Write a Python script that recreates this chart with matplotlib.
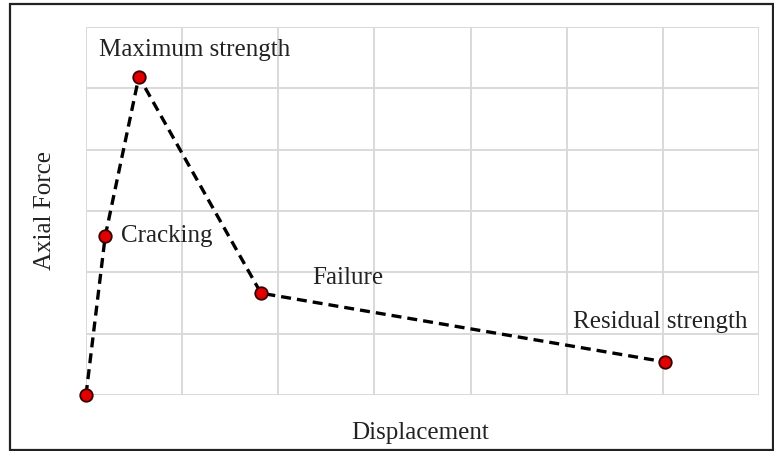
import matplotlib.pyplot as plt
from matplotlib.patches import Rectangle

# key points of the axial force - displacement curve (grid units)
stages = ["Start", "Cracking", "Maximum strength", "Failure", "Residual strength"]
disp = [0.0, 0.2, 0.55, 1.82, 6.02]
force = [0.0, 2.59, 5.19, 1.66, 0.54]

plt.rcParams['font.family'] = ['Liberation Serif', 'DejaVu Serif']

fig = plt.figure(figsize=(7.74, 4.51), dpi=100)
ax = fig.add_axes([86 / 774, 1 - 395 / 451, (759 - 86) / 774, (395 - 27) / 451])

ax.plot(disp, force, ls=(0, (3, 1.8)), color='black', lw=2.4, zorder=3,
        marker='o', markersize=9, markerfacecolor='#e00000',
        markeredgecolor='#3a0000', markeredgewidth=1.3, clip_on=False)

ax.set_xlim(0, 7)
ax.set_ylim(0, 6)
ax.set_xticks(range(8))
ax.set_yticks(range(7))
ax.grid(True, color='#d9d9d9', lw=1.4)
ax.tick_params(length=0, labelbottom=False, labelleft=False)
for s in ax.spines.values():
    s.set_visible(False)

fs = 18
txt = '#222222'
ax.annotate(stages[2], (disp[2], force[2]), xytext=(40, 19), textcoords='offset points',
            ha='center', va='center', fontsize=fs, color=txt)
ax.annotate(stages[1], (disp[1], force[1]), xytext=(11, 0), textcoords='offset points',
            ha='left', va='center', fontsize=fs, color=txt)
ax.annotate(stages[3], (disp[3], force[3]), xytext=(37, 11), textcoords='offset points',
            ha='left', va='center', fontsize=fs, color=txt)
ax.annotate(stages[4], (disp[4], force[4]), xytext=(-66, 29), textcoords='offset points',
            ha='left', va='center', fontsize=fs, color=txt)

fig.text(420 / 774, 1 - 433 / 451, "Displacement", ha='center', va='center', fontsize=fs, color=txt)
fig.text(45 / 774, 1 - 210 / 451, "Axial Force", ha='center', va='center', rotation=90,
         fontsize=fs, color=txt)

fig.patches.append(Rectangle((10 / 774, 1 / 451), 763 / 774, 446 / 451, transform=fig.transFigure,
                             fill=False, edgecolor='#222222', lw=1.6))

fig.savefig('out.png', dpi=100)
